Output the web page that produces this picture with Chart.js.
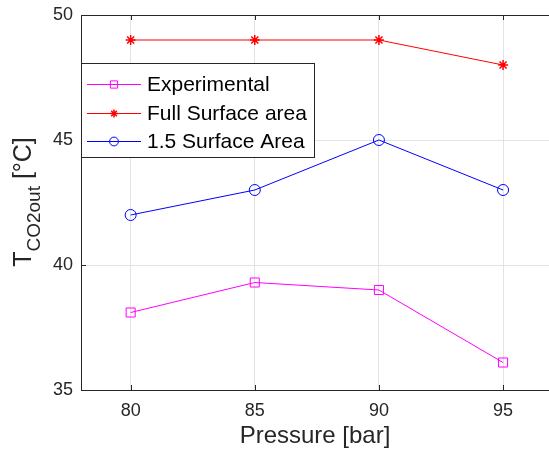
<!DOCTYPE html>
<html>
<head>
<meta charset="utf-8">
<script src="https://cdn.jsdelivr.net/npm/chart.js@4.4.0/dist/chart.umd.min.js"></script>
<style>
  html, body { margin: 0; padding: 0; background: #fff; overflow: hidden; }
  #wrap { width: 549px; height: 451px; }
</style>
</head>
<body>
<div id="wrap"><canvas id="myChart" width="549" height="451"></canvas></div>
<script>
// data
const pressure = [80, 85, 90, 95];
const experimental = [38.1, 39.3, 39.0, 36.1];
const fullSurface = [49, 49, 49, 48];
const surface15 = [42, 43, 45, 43];
const xTicks = [80, 85, 90, 95];
const yTicks = [35, 40, 45, 50];

const axisColor = '#262626';
const gridColor = '#e3e3e3';
const fontName = 'Arial, "Liberation Sans", Helvetica, sans-serif';

function toPoints(vals) {
	return pressure.map((p, i) => ({ x: p, y: vals[i] }));
}

// axes box, inner ticks, y title and legend, drawn MATLAB style
const matlabLook = {
	id: 'matlabLook',
	afterDatasetsDraw(chart) {
		const ctx = chart.ctx;
		const a = chart.chartArea;
		const xs = chart.scales.x;
		const ys = chart.scales.y;
		ctx.save();
		ctx.strokeStyle = axisColor;
		ctx.lineWidth = 1;
		ctx.beginPath();
		ctx.moveTo(a.right + 1, a.top + 0.5);
		ctx.lineTo(a.left + 0.5, a.top + 0.5);
		ctx.lineTo(a.left + 0.5, a.bottom + 0.5);
		ctx.lineTo(a.right + 1, a.bottom + 0.5);
		// inner ticks
		xTicks.forEach(t => {
			const px = Math.round(xs.getPixelForValue(t)) + 0.5;
			ctx.moveTo(px, a.bottom);
			ctx.lineTo(px, a.bottom - 5);
			ctx.moveTo(px, a.top);
			ctx.lineTo(px, a.top + 5);
		});
		yTicks.forEach(t => {
			const py = Math.round(ys.getPixelForValue(t)) + 0.5;
			ctx.moveTo(a.left, py);
			ctx.lineTo(a.left + 5, py);
		});
		ctx.stroke();

		// y axis title with subscript
		const cy = 202;
		ctx.translate(31, cy);
		ctx.rotate(-Math.PI / 2);
		ctx.fillStyle = axisColor;
		ctx.textBaseline = 'alphabetic';
		ctx.textAlign = 'left';
		const big = '25px ' + fontName;
		const small = '19px ' + fontName;
		ctx.font = big;
		const w1 = ctx.measureText('T').width;
		const w3 = ctx.measureText(' [°C]').width;
		ctx.font = small;
		const w2 = ctx.measureText('CO2out').width;
		let x0 = -(w1 + w2 + w3) / 2;
		ctx.font = big;
		ctx.fillText('T', x0, 0);
		ctx.font = small;
		ctx.fillText('CO2out', x0 + w1, 9);
		ctx.font = big;
		ctx.fillText(' [°C]', x0 + w1 + w2, 0);
		ctx.restore();

		// legend
		ctx.save();
		const bx = 81.5, by = 63.5, bw = 233, bh = 94;
		ctx.fillStyle = '#fff';
		ctx.fillRect(bx, by, bw, bh);
		ctx.strokeStyle = axisColor;
		ctx.lineWidth = 1;
		ctx.strokeRect(bx, by, bw, bh);
		const rows = [84, 113, 141];
		ctx.font = '21px ' + fontName;
		ctx.textBaseline = 'middle';
		chart.data.datasets.forEach((ds, i) => {
			const y = rows[i];
			ctx.strokeStyle = ds.borderColor;
			ctx.lineWidth = 1;
			ctx.beginPath();
			ctx.moveTo(87, y + 0.5);
			ctx.lineTo(141, y + 0.5);
			ctx.stroke();
			ctx.fillStyle = 'rgba(0,0,0,0)';
			ctx.strokeStyle = ds.borderColor;
			ctx.lineWidth = ds.pointBorderWidth;
			Chart.helpers.drawPoint(ctx, {
				pointStyle: ds.pointStyle,
				radius: ds.pointRadius * 0.8,
				borderWidth: ds.pointBorderWidth,
				rotation: 0
			}, 114, y + 0.5);
			ctx.fillStyle = '#000';
			ctx.fillText(ds.label, 147, y + 1);
		});
		ctx.restore();
	}
};

const ctx = document.getElementById('myChart').getContext('2d');
const chart = new Chart(ctx, {
	type: 'line',
	data: {
		datasets: [{
			label: 'Experimental',
			data: toPoints(experimental),
			borderColor: '#ff00ff',
			pointStyle: 'rect',
			pointRadius: 6.4,
			pointBorderWidth: 1
		}, {
			label: 'Full Surface area',
			data: toPoints(fullSurface),
			borderColor: '#ff0000',
			pointStyle: 'star',
			pointRadius: 5,
			pointBorderWidth: 1.5
		}, {
			label: '1.5 Surface Area',
			data: toPoints(surface15),
			borderColor: '#0000ff',
			pointStyle: 'circle',
			pointRadius: 5.5,
			pointBorderWidth: 1
		}].map(d => Object.assign(d, {
			borderWidth: 1,
			pointBorderColor: d.borderColor,
			pointBackgroundColor: 'rgba(0,0,0,0)',
			pointHoverRadius: d.pointRadius,
			tension: 0,
			fill: false
		}))
	},
	options: {
		responsive: false,
		animation: false,
		layout: { autoPadding: false, padding: { top: 15, right: 0, left: 0, bottom: 0 } },
		plugins: {
			legend: { display: false },
			tooltip: { enabled: false }
		},
		scales: {
			x: {
				type: 'linear',
				min: 78,
				max: 96.85,
				afterBuildTicks(scale) { scale.ticks = xTicks.map(v => ({ value: v })); },
				afterFit(scale) {
					scale.height = 61;
					scale.paddingLeft = 0;
					scale.paddingRight = 0;
				},
				grid: { color: gridColor, drawTicks: false },
				border: { display: false },
				ticks: {
					color: axisColor,
					padding: 10,
					font: { size: 18, family: fontName }
				},
				title: {
					display: true,
					text: 'Pressure [bar]',
					color: axisColor,
					font: { size: 24, family: fontName },
					padding: { top: 0, bottom: 0 }
				}
			},
			y: {
				min: 35,
				max: 50,
				afterBuildTicks(scale) { scale.ticks = yTicks.map(v => ({ value: v })); },
				afterFit(scale) {
					scale.width = 81;
					scale.paddingTop = 0;
					scale.paddingBottom = 0;
				},
				grid: { color: gridColor, drawTicks: false },
				border: { display: false },
				ticks: {
					color: axisColor,
					padding: 8,
					font: { size: 18, family: fontName }
				}
			}
		}
	},
	plugins: [matlabLook]
});
</script>
</body>
</html>
